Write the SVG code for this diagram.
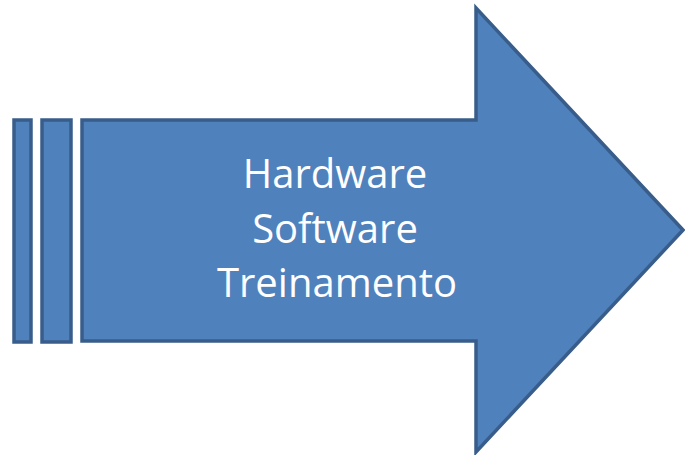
<svg xmlns="http://www.w3.org/2000/svg" width="685" height="455" viewBox="0 0 685 455">
<style>
.shape{fill:#4f81bd;stroke:#385d8a;stroke-width:3.5;stroke-linejoin:miter}
.lbl{font-family:"Open Sans","Liberation Sans",sans-serif;font-size:40px;fill:#ffffff;text-anchor:middle}
</style>
<rect width="685" height="455" fill="#ffffff"/>
<g id="arrow">
<rect class="shape" x="14" y="120" width="17" height="222"/>
<rect class="shape" x="42" y="120" width="29" height="222"/>
<path class="shape" d="M82,120 L476,120 L476,8 L683,230 L476,452 L476,341 L82,341 Z"/>
<text class="lbl" x="335" y="188">Hardware</text>
<text class="lbl" x="335" y="243">Software</text>
<text class="lbl" x="337" y="297">Treinamento</text>
</g>
</svg>
